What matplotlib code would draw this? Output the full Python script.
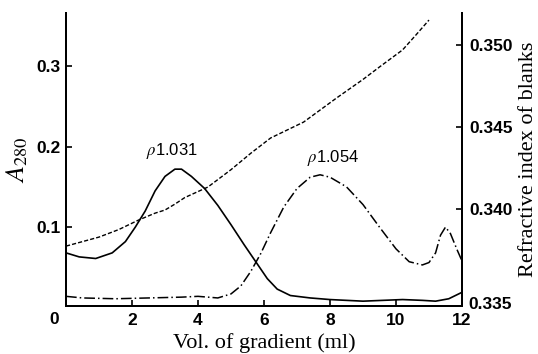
import numpy as np
import matplotlib.pyplot as plt
from matplotlib.transforms import offset_copy

plt.rcParams['mathtext.fontset'] = 'stix'

# A280, rho 1.031 band (solid)
vol_solid = [0.0, 0.4, 0.9, 1.4, 1.8, 2.1, 2.4, 2.7, 3.0, 3.3, 3.5, 3.8, 4.2, 4.6,
             5.0, 5.4, 5.8, 6.1, 6.4, 6.8, 7.4, 8.0, 9.0, 9.6, 10.2, 10.8, 11.2, 11.6, 12.0]
a280_solid = [0.068, 0.063, 0.061, 0.068, 0.082, 0.100, 0.120, 0.145, 0.163, 0.172, 0.172,
              0.163, 0.148, 0.127, 0.103, 0.078, 0.054, 0.036, 0.023, 0.015, 0.012, 0.010,
              0.008, 0.009, 0.010, 0.009, 0.008, 0.011, 0.019]

# A280, rho 1.054 band (dash-dot)
vol_dashdot = [0.0, 0.5, 1.5, 2.5, 3.5, 4.0, 4.6, 5.0, 5.3, 5.6, 5.9, 6.2, 6.6, 7.0, 7.4,
               7.7, 8.0, 8.5, 9.0, 9.5, 10.0, 10.4, 10.8, 11.0, 11.2, 11.35, 11.5, 11.65,
               11.85, 12.0]
a280_dashdot = [0.014, 0.012, 0.011, 0.012, 0.013, 0.014, 0.012, 0.017, 0.027, 0.045, 0.067,
                0.093, 0.125, 0.148, 0.162, 0.165, 0.162, 0.150, 0.128, 0.100, 0.073, 0.057,
                0.053, 0.056, 0.068, 0.090, 0.100, 0.092, 0.072, 0.058]

# refractive index of blanks (dashed, right axis)
vol_ri = [0.0, 1.0, 1.6, 2.2, 2.7, 3.0, 3.3, 3.6, 4.3, 5.0, 5.6, 6.2, 7.2, 8.2, 9.0, 9.5,
          10.2, 10.6, 11.0]
ri_blank = [0.33774, 0.33829, 0.33875, 0.33933, 0.33975, 0.33994, 0.34030, 0.34070, 0.34134,
            0.34240, 0.34340, 0.34433, 0.34530, 0.34677, 0.34790, 0.34866, 0.34970, 0.35060,
            0.35152]

x_ticks = [0, 2, 4, 6, 8, 10, 12]
left_ticks = [0.1, 0.2, 0.3]
right_ticks = [0.340, 0.345, 0.350]

tick_font = dict(family='Liberation Sans', size=12.5, weight='bold')
label_font = dict(family='Liberation Serif', size=16)

fig = plt.figure(figsize=(5.38, 3.54), dpi=100)
ax = fig.add_axes([0.1227, 0.1356, 0.736, 0.8277])
ax2 = ax.twinx()

ax.plot(vol_solid, a280_solid, color='black', lw=1.2, solid_capstyle='round')
ax.plot(vol_dashdot, a280_dashdot, color='black', lw=1.1, dashes=(7, 2, 1, 2))
ax2.plot(vol_ri, ri_blank, color='black', lw=1.0, dashes=(3, 1.5))

ax.set_xlim(0, 12)
ax.set_ylim(0.002, 0.366)
ax2.set_ylim(0.33409, 0.35195)

for a in (ax, ax2):
    a.spines['top'].set_visible(False)
    for s in a.spines.values():
        s.set_linewidth(1.4)

ax.set_xticks(x_ticks)
ax.set_xticklabels([''] + [str(t) for t in x_ticks[1:]], **tick_font)
ax.set_yticks(left_ticks)
ax.set_yticklabels(['0.1', '0.2', '0.3'], **tick_font)
ax.tick_params(axis='both', direction='in', length=4, width=1.2, pad=4)
ax.tick_params(axis='x', pad=5)

ax2.set_yticks(right_ticks)
ax2.set_yticklabels(['0.340', '0.345', '0.350'], **tick_font)
ax2.tick_params(axis='y', direction='in', length=4, width=1.2, pad=5)

# corner labels
ax.text(0, 0, '0', transform=offset_copy(ax.get_xaxis_transform(), fig=fig, x=-7, y=-14, units='dots'),
        ha='right', va='center', **tick_font)
ax2.text(1, 0, '0.335', transform=offset_copy(ax2.transAxes, fig=fig, x=6, y=1, units='dots'),
         ha='left', va='center', **tick_font)

ax.set_xlabel('Vol. of gradient (ml)', labelpad=4, **label_font)
ax.set_ylabel(r'$A_{280}$', fontsize=19, labelpad=4)
ax2.set_ylabel('Refractive index of blanks', labelpad=5, **label_font)

ax.text(3.2, 0.182, r'$\rho$1.031', ha='center', va='bottom', family='Liberation Sans', size=12)
ax.text(8.1, 0.174, r'$\rho$1.054', ha='center', va='bottom', family='Liberation Sans', size=12)

fig.savefig('out.png', dpi=100)
